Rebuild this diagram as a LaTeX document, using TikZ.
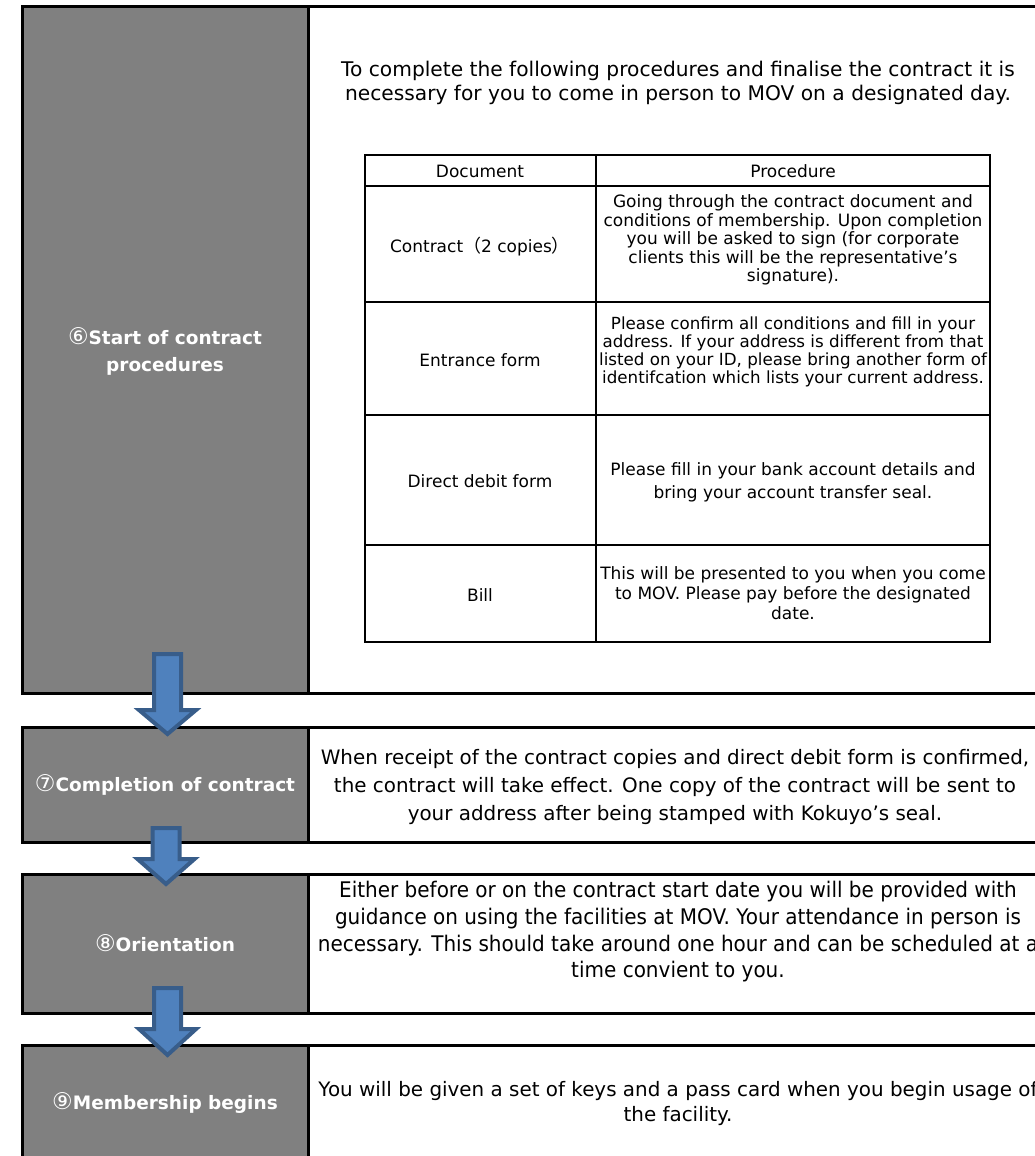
\documentclass[tikz,border=0pt]{standalone}
\usepackage{fontspec}
\setmainfont{DejaVu Sans}
\newfontfamily\condfont[FakeStretch=0.93]{DejaVu Sans}
\newfontfamily\cjk{Noto Sans CJK JP}
\definecolor{sgray}{RGB}{128,128,128}
\definecolor{afill}{RGB}{79,129,189}
\definecolor{aline}{RGB}{56,93,138}
\newcommand\blockarrow[4]{%
  \draw[barrow] (#1-13.5,#2+2) -- (#1+13.5,#2+2) -- (#1+13.5,#3+2) -- (#1+28.5,#3+2)
    -- (#1,#4-3) -- (#1-28.5,#3+2) -- (#1-13.5,#3+2) -- cycle;}
\newcommand\circnum[1]{{\mdseries\fontsize{23}{27}\selectfont #1}}
\begin{document}
\begin{tikzpicture}[x=1pt,y=-1pt,
  frame/.style={line width=3pt, draw=black},
  tline/.style={line width=2.5pt, draw=black},
  barrow/.style={fill=afill, draw=aline, line width=4pt, line join=miter},
  label/.style={text=white, align=center, inner sep=0pt, font=\bfseries\fontsize{18.5}{27}\selectfont},
  intro/.style={align=center, inner sep=0pt, font=\fontsize{20.2}{23.5}\selectfont},
  cell/.style={align=center, inner sep=0pt, font=\fontsize{17}{18.5}\selectfont},
  body/.style={align=center, inner sep=0pt, font=\fontsize{19.9}{28}\selectfont}]
\useasboundingbox (0,0) rectangle (1035,1156);
\clip (0,0) rectangle (1035,1156);

% ---------- section 6 ----------
\fill[sgray] (22,7) rectangle (308,693);
\draw[frame] (1060,7) -- (22,7) -- (22,693) -- (1060,693);
\draw[frame] (308,7) -- (308,693);
\node[label] (l6) at (165,351) {\circnum{⑥}Start of contract\\procedures};
\node[intro] (t6) at (678,83) {To complete the following procedures and finalise the contract it is\\necessary for you to come in person to MOV on a designated day.};

% table
\draw[tline] (365,155) rectangle (990,642);
\draw[tline] (596,155) -- (596,642);
\draw[tline] (365,186) -- (990,186);
\draw[tline] (365,302) -- (990,302);
\draw[tline] (365,415) -- (990,415);
\draw[tline] (365,545) -- (990,545);
\node[cell] (h1) at (480,171) {Document};
\node[cell] (h2) at (793,171) {Procedure};
\node[cell] (c1) at (480,247) {Contract{\cjk\fontsize{18}{18}\selectfont （}2 copies{\cjk\fontsize{18}{18}\selectfont ）}};
\node[cell] (p1) at (793,240) {Going through the contract document and\\conditions of membership. Upon completion\\you will be asked to sign (for corporate\\clients this will be the representative’s\\signature).};
\node[cell] (c2) at (480,360) {Entrance form};
\node[cell, font=\fontsize{16.7}{18}\selectfont] (p2) at (793,352) {Please confirm all conditions and fill in your\\address. If your address is different from that\\listed on your ID, please bring another form of\\identifcation which lists your current address.};
\node[cell] (c3) at (480,481) {Direct debit form};
\node[cell, font=\fontsize{17}{23}\selectfont] (p3) at (793,482) {Please fill in your bank account details and\\bring your account transfer seal.};
\node[cell] (c4) at (480,595) {Bill};
\node[cell, font=\fontsize{17}{20}\selectfont] (p4) at (793,593) {This will be presented to you when you come\\to MOV. Please pay before the designated\\date.};

% ---------- section 7 ----------
\fill[sgray] (22,727) rectangle (308,842);
\draw[frame] (1060,727) -- (22,727) -- (22,842) -- (1060,842);
\draw[frame] (308,727) -- (308,842);
\node[label] (l7) at (165,785) {\circnum{⑦}Completion of contract};
\node[body] (t7) at (675,787) {When receipt of the contract copies and direct debit form is confirmed,\\the contract will take effect. One copy of the contract will be sent to\\your address after being stamped with Kokuyo’s seal.};

% ---------- section 8 ----------
\fill[sgray] (22,874) rectangle (308,1013);
\draw[frame] (1060,874) -- (22,874) -- (22,1013) -- (1060,1013);
\draw[frame] (308,874) -- (308,1013);
\node[label] (l8) at (165,943) {\circnum{⑧}Orientation};
\node[body, font=\condfont\fontsize{21.5}{26.7}\selectfont] (t8) at (678,932) {Either before or on the contract start date you will be provided with\\guidance on using the facilities at MOV. Your attendance in person is\\necessary. This should take around one hour and can be scheduled at a\\time convient to you.};

% ---------- section 9 ----------
\fill[sgray] (22,1045) rectangle (308,1170);
\draw[frame] (1060,1045) -- (22,1045) -- (22,1170);
\draw[frame] (308,1045) -- (308,1170);
\node[label] (l9) at (165,1103) {\circnum{⑨}Membership begins};
\node[body, font=\fontsize{19.9}{25}\selectfont] (t9) at (678,1103) {You will be given a set of keys and a pass card when you begin usage of\\the facility.};

% ---------- arrows ----------
\blockarrow{167.5}{652}{708}{737}
\blockarrow{166}{826}{857}{887}
\blockarrow{167.5}{986}{1027}{1058}
\end{tikzpicture}
\end{document}
